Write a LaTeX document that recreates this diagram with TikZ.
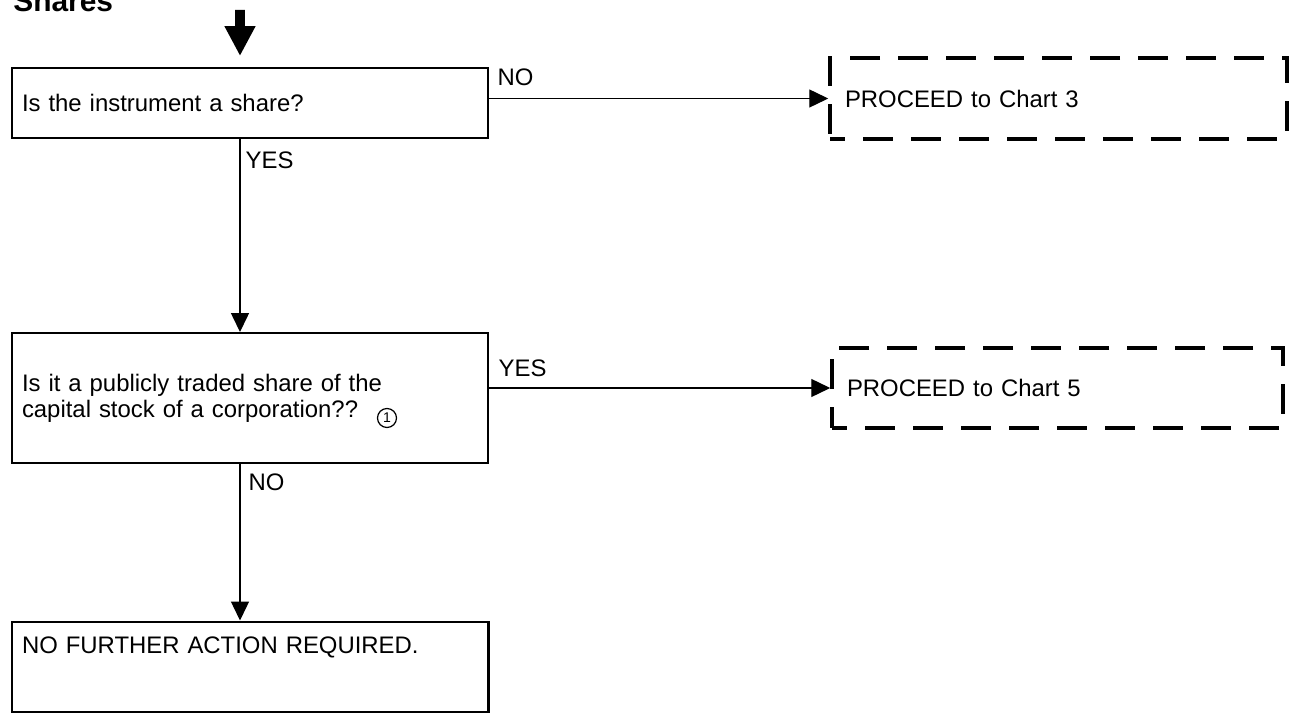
\documentclass[tikz,border=0pt]{standalone}
\usepackage{fontspec}
\setmainfont{Liberation Sans}
\usetikzlibrary{arrows.meta,positioning}

\begin{document}
\begin{tikzpicture}[
    every node/.style={font=\fontsize{13.6}{14.8}\selectfont},
    qbox/.style={rectangle, draw, line width=1.1pt, minimum width=9.52cm,
                 text width=9.12cm, align=left, inner xsep=0.2cm},
    endbox/.style={qbox, line width=1.7pt},
    gobox/.style={rectangle, draw, line width=2pt, dash phase=0.3cm,
                  dash pattern=on 0.6cm off 0.36cm, align=left, inner xsep=0.3cm},
    e/.style={-{Triangle[width=3.6mm, length=3.8mm]}, line width=0.8pt},
    lbl/.style={inner sep=0pt},
    note/.style={circle, draw, line width=0.7pt, minimum size=3.8mm,
                 inner sep=0pt, font=\fontsize{8}{9}\selectfont},
  ]
  \useasboundingbox (0,0) rectangle (25.84,-14.44);
  \node[font=\fontsize{17}{20}\selectfont\bfseries, anchor=base west, inner sep=0pt] (title) at (0.26,-0.24) {Shares};
  \node[qbox, minimum height=1.4cm] (q1) at (5.00,-2.06) {Is the instrument a share?};
  \node[qbox, minimum height=2.6cm] (q2) at (5.00,-7.96) {Is it a publicly traded share of the\\capital stock of a corporation??};
  \node[endbox, inner ysep=0pt, text height=0.62cm, text depth=1.18cm] (done) at (5.00,-13.34) {NO FURTHER ACTION REQUIRED.};
  \node[gobox, minimum width=9.14cm, minimum height=1.62cm, text width=8.54cm] (chart3) at (21.17,-1.97) {PROCEED to Chart 3};
  \node[gobox, minimum width=9.02cm, minimum height=1.60cm, text width=8.42cm] (chart5) at (21.15,-7.76) {PROCEED to Chart 5};
  \node[note] (fn1) at (7.74,-8.36) {1};
  \coordinate (in) at (4.80,-0.20);
  \draw[line width=5.5pt, -{Triangle[width=0.58cm, length=0.6cm]}] (in) -- ([xshift=-2mm, yshift=2.2mm]q1.north);
  \draw[e] (q1.east |- chart3.west) -- node[lbl, pos=0, anchor=south west, xshift=0.16cm, yshift=0.24cm] {NO} (chart3.west);
  \draw[e] ([xshift=-2mm]q1.south) -- node[lbl, pos=0, anchor=north west, xshift=0.10cm, yshift=-0.24cm] {YES} ([xshift=-2mm]q2.north);
  \draw[e] (q2.east |- chart5.west) -- node[lbl, pos=0, anchor=south west, xshift=0.18cm, yshift=0.22cm] {YES} (chart5.west);
  \draw[e] ([xshift=-2mm]q2.south) -- node[lbl, pos=0, anchor=north west, xshift=0.16cm, yshift=-0.18cm] {NO} ([xshift=-2mm]done.north);
\end{tikzpicture}
\end{document}
